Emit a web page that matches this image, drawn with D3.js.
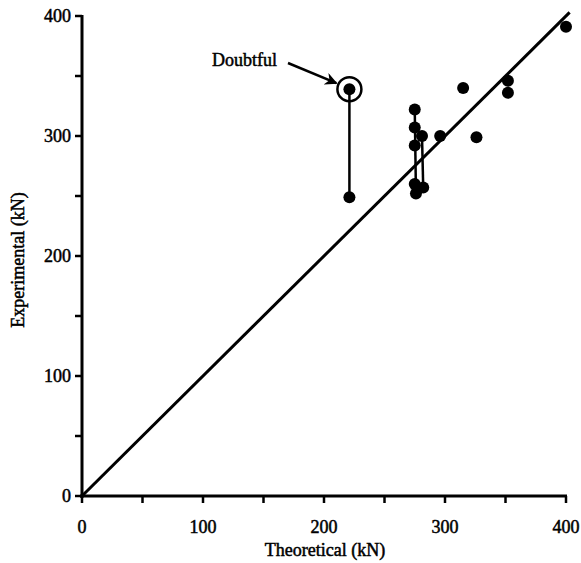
<!DOCTYPE html>
<html>
<head>
<meta charset="utf-8">
<script src="https://cdn.jsdelivr.net/npm/d3@7"></script>
<style>
  body { margin: 0; background: #fff; }
  text { font-family: "Liberation Serif", "Times New Roman", serif; fill: #000; stroke: #000; stroke-width: 0.5px; }
</style>
</head>
<body>
<svg></svg>
<script>
const width = 581;
const height = 563;

// measured test results (kN)
const theoretical  = [221, 221, 275, 275, 275, 275, 276, 281, 282, 296, 315, 326, 352, 352, 400];
const experimental = [339, 249, 322, 307, 292, 260, 252, 300, 257, 300, 340, 299, 346, 336, 391];
// pairs of repeat tests on the same specimen, joined by a line
const pairs = [[0, 1], [2, 6], [7, 8]];
const doubtfulIndex = 0;
const tickValues = [0, 100, 200, 300, 400];
const minorTicks = [50, 150, 250, 350];
const equalityLine = [0, 403];

const svg = d3.select('svg')
	.attr('width', width)
	.attr('height', height);

const x = d3.scaleLinear().domain([0, 400]).range([82, 566]);
const y = d3.scaleLinear().domain([0, 400]).range([496, 16]);

const points = theoretical.map((t, i) => ({ t, e: experimental[i] }));

// y = x reference line
svg.append('line')
	.attr('x1', x(equalityLine[0]))
	.attr('y1', y(equalityLine[0]))
	.attr('x2', x(equalityLine[1]))
	.attr('y2', y(equalityLine[1]))
	.attr('stroke', '#000')
	.attr('stroke-width', 3);

// x axis
const xAxis = svg.append('g').attr('transform', `translate(0,${y(0)})`);
xAxis.append('line')
	.attr('x1', x(0) - 2).attr('x2', x(400) + 1)
	.attr('stroke', '#000').attr('stroke-width', 3);
xAxis.selectAll('.tick')
	.data(tickValues.concat(minorTicks))
	.enter().append('line')
		.attr('x1', d => x(d)).attr('x2', d => x(d))
		.attr('y1', 0).attr('y2', 7)
		.attr('stroke', '#000').attr('stroke-width', 2.5);
xAxis.selectAll('text')
	.data(tickValues)
	.enter().append('text')
		.attr('x', d => x(d))
		.attr('y', 37)
		.attr('text-anchor', 'middle')
		.attr('font-size', 18)
		.text(d => d);

// y axis
const yAxis = svg.append('g').attr('transform', `translate(${x(0)},0)`);
yAxis.append('line')
	.attr('y1', y(0) + 2).attr('y2', y(400) - 1)
	.attr('stroke', '#000').attr('stroke-width', 3);
yAxis.selectAll('.tick')
	.data(tickValues.concat(minorTicks))
	.enter().append('line')
		.attr('y1', d => y(d)).attr('y2', d => y(d))
		.attr('x1', -7).attr('x2', 0)
		.attr('stroke', '#000').attr('stroke-width', 2.5);
yAxis.selectAll('text')
	.data(tickValues)
	.enter().append('text')
		.attr('x', -11)
		.attr('y', d => y(d) + 6)
		.attr('text-anchor', 'end')
		.attr('font-size', 18)
		.text(d => d);

// axis titles
svg.append('text')
	.attr('x', 325)
	.attr('y', 556)
	.attr('text-anchor', 'middle')
	.attr('font-size', 18)
	.text('Theoretical (kN)');

svg.append('text')
	.attr('transform', 'translate(24,260) rotate(-90)')
	.attr('text-anchor', 'middle')
	.attr('font-size', 18)
	.text('Experimental (kN)');

// connecting lines between repeat tests
svg.selectAll('.pair')
	.data(pairs)
	.enter().append('line')
		.attr('x1', d => x(points[d[0]].t))
		.attr('y1', d => y(points[d[0]].e))
		.attr('x2', d => x(points[d[1]].t))
		.attr('y2', d => y(points[d[1]].e))
		.attr('stroke', '#000')
		.attr('stroke-width', 2.5);

// data points
svg.selectAll('circle.pt')
	.data(points)
	.enter().append('circle')
		.attr('class', 'pt')
		.attr('cx', d => x(d.t))
		.attr('cy', d => y(d.e))
		.attr('r', 6)
		.attr('fill', '#000');

// doubtful annotation
const doubtful = points[doubtfulIndex];
svg.append('circle')
	.attr('cx', x(doubtful.t))
	.attr('cy', y(doubtful.e))
	.attr('r', 12)
	.attr('fill', 'none')
	.attr('stroke', '#000')
	.attr('stroke-width', 2.5);

svg.append('defs').append('marker')
	.attr('id', 'arrow')
	.attr('viewBox', '0 0 10 10')
	.attr('refX', 9).attr('refY', 5)
	.attr('markerWidth', 5).attr('markerHeight', 5)
	.attr('orient', 'auto')
	.append('path')
		.attr('d', 'M0,0 L10,5 L0,10 L3,5 Z')
		.attr('fill', '#000');

svg.append('line')
	.attr('x1', 288).attr('y1', 63)
	.attr('x2', x(doubtful.t) - 13).attr('y2', y(doubtful.e) - 6)
	.attr('stroke', '#000')
	.attr('stroke-width', 2.5)
	.attr('marker-end', 'url(#arrow)');

svg.append('text')
	.attr('x', 212)
	.attr('y', 66)
	.attr('font-size', 18)
	.text('Doubtful');
</script>
</body>
</html>
